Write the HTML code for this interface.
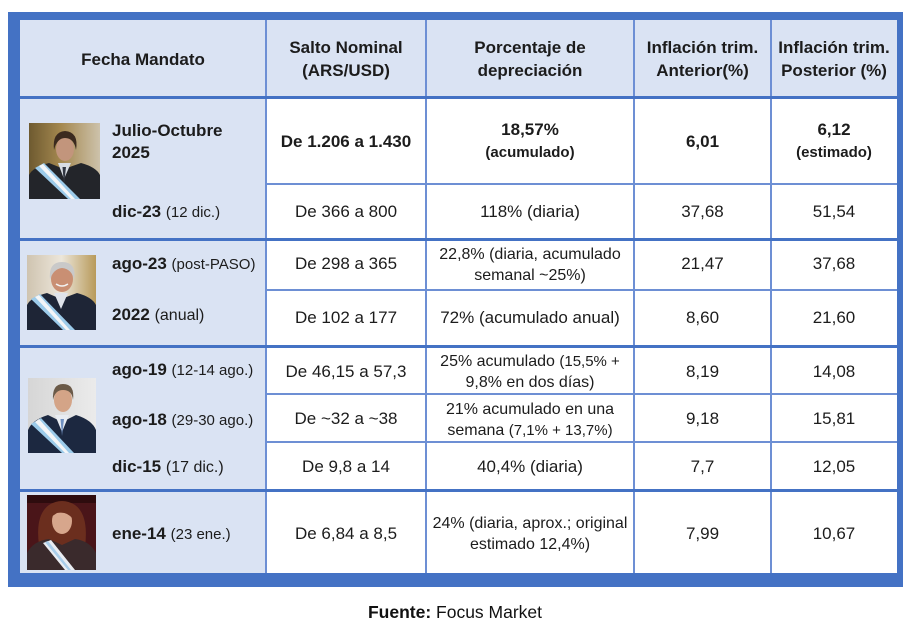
<!DOCTYPE html>
<html>
<head>
<meta charset="utf-8">
<style>
  html,body{margin:0;padding:0;background:#fff;}
  #c{position:relative;width:910px;height:629px;overflow:hidden;background:#fff;font-family:"Liberation Sans",Arial,sans-serif;color:#1c1c1c;}
  .a{position:absolute;}
  .t{position:absolute;text-align:center;white-space:nowrap;line-height:21px;font-size:17px;}
  .l{position:absolute;text-align:left;white-space:nowrap;line-height:21px;font-size:17px;}
  .b{font-weight:bold;}
  .h{font-weight:bold;line-height:23px;}
  .s{font-size:15px;}
  .m{font-size:16px;}
  .hl{position:absolute;background:#6d8fd4;height:2px;}
  .HL{position:absolute;background:#4472c4;height:3px;}
  .vl{position:absolute;background:#6d8fd4;width:2px;}
  .c2{left:266px;width:160px;}
  .c3{left:426px;width:208px;}
  .c4{left:634px;width:137px;}
  .c5{left:771px;width:126px;}
  .c1{left:20px;width:246px;}
</style>
</head>
<body>
<div id="c">
  <div class="a" style="left:8px;top:12px;width:895px;height:575px;background:#4472c4;"></div>
  <div class="a" style="left:20px;top:20px;width:877px;height:553px;background:#fff;"></div>
  <div class="a" style="left:20px;top:20px;width:246px;height:553px;background:#dae3f3;"></div>
  <div class="a" style="left:20px;top:20px;width:877px;height:77px;background:#dae3f3;"></div>

  <div class="vl" style="left:265px;top:20px;height:553px;"></div>
  <div class="vl" style="left:425px;top:20px;height:553px;"></div>
  <div class="vl" style="left:633px;top:20px;height:553px;"></div>
  <div class="vl" style="left:770px;top:20px;height:553px;"></div>

  <div class="hl" style="left:266px;top:183px;width:631px;"></div>
  <div class="hl" style="left:266px;top:289px;width:631px;"></div>
  <div class="hl" style="left:266px;top:393px;width:631px;"></div>
  <div class="hl" style="left:266px;top:441px;width:631px;"></div>

  <div class="HL" style="left:20px;top:96px;width:877px;"></div>
  <div class="HL" style="left:20px;top:238px;width:877px;"></div>
  <div class="HL" style="left:20px;top:345px;width:877px;"></div>
  <div class="HL" style="left:20px;top:489px;width:877px;"></div>

  <div class="t h c1" style="top:48px;">Fecha Mandato</div>
  <div class="t h c2" style="top:36px;">Salto Nominal<br>(ARS/USD)</div>
  <div class="t h c3" style="top:36px;">Porcentaje de<br>depreciación</div>
  <div class="t h c4" style="top:36px;">Inflación trim.<br>Anterior(%)</div>
  <div class="t h c5" style="top:36px;">Inflación trim.<br>Posterior (%)</div>

  <svg class="a" style="left:29px;top:123px;" width="71" height="76" viewBox="0 0 71 76">
    <defs><linearGradient id="g1" x1="0" x2="1"><stop offset="0" stop-color="#6e5a30"/><stop offset=".45" stop-color="#a4884f"/><stop offset="1" stop-color="#cdc2ab"/></linearGradient></defs>
    <rect width="71" height="76" fill="url(#g1)"/>
    <path d="M0 76 V52 Q4 44 20 40 L35 46 L52 40 Q67 44 71 52 V76Z" fill="#23252a"/>
    <path d="M29 40 L35 56 L42 40Z" fill="#d8dde3"/>
    <path d="M33.5 44 L35 62 L37 44Z" fill="#313641"/>
    <ellipse cx="36" cy="26" rx="9" ry="12" fill="#c2957c"/>
    <path d="M25 27 Q23 9 36 8 Q50 9 47 27 Q45 15 36 15 Q28 15 25 27Z" fill="#3b2a1f"/>
    <path d="M6 45 L15 40 L51 76 L39 76Z" fill="#9ccbea"/>
    <path d="M10 43 L14 41 L46 76 L42 76Z" fill="#f3f5f7"/>
  </svg>

  <svg class="a" style="left:27px;top:255px;" width="69" height="75" viewBox="0 0 69 75">
    <defs><linearGradient id="g2" x1="0" x2="1"><stop offset="0" stop-color="#cfc4b0"/><stop offset=".5" stop-color="#ece6da"/><stop offset="1" stop-color="#b89a5a"/></linearGradient></defs>
    <rect width="69" height="75" fill="url(#g2)"/>
    <path d="M0 75 V50 Q4 42 20 38 L34 44 L50 38 Q65 42 69 50 V75Z" fill="#1e2536"/>
    <path d="M27 38 L34 54 L41 38Z" fill="#dfe3ea"/>
    <ellipse cx="35" cy="24" rx="11" ry="13" fill="#c98f73"/>
    <path d="M23 25 Q21 7 35 7 Q50 7 47 25 Q45 14 35 13 Q26 14 23 25Z" fill="#c9c9c9"/>
    <path d="M29 29 Q35 33 41 29" stroke="#f2f2f2" stroke-width="1.5" fill="none"/>
    <path d="M4 44 L13 39 L48 75 L36 75Z" fill="#9ccbea"/>
    <path d="M8 42 L12 40 L43 75 L39 75Z" fill="#f3f5f7"/>
  </svg>

  <svg class="a" style="left:28px;top:378px;" width="68" height="75" viewBox="0 0 68 75">
    <defs><linearGradient id="g3" x1="0" x2="1"><stop offset="0" stop-color="#d6d6d6"/><stop offset="1" stop-color="#ebebeb"/></linearGradient></defs>
    <rect width="68" height="75" fill="url(#g3)"/>
    <path d="M0 75 V52 Q4 42 20 37 L34 44 L48 37 Q64 42 68 52 V75Z" fill="#1c2840"/>
    <path d="M27 37 L34 54 L41 37Z" fill="#e8ecf2"/>
    <path d="M32.5 41 L34 58 L36 41Z" fill="#6f8fc0"/>
    <ellipse cx="35" cy="22" rx="9" ry="12" fill="#d4a487"/>
    <path d="M25 22 Q24 6 35 6 Q47 6 45 22 Q44 12 35 12 Q27 12 25 22Z" fill="#6b5a48"/>
    <path d="M3 46 L13 40 L46 75 L34 75Z" fill="#9ccbea"/>
    <path d="M7 44 L11 41 L41 75 L37 75Z" fill="#f3f5f7"/>
  </svg>

  <svg class="a" style="left:27px;top:495px;" width="69" height="75" viewBox="0 0 69 75">
    <rect width="69" height="75" fill="#4a1519"/>
    <rect x="0" y="0" width="69" height="8" fill="#2e0c0e"/>
    <path d="M12 50 Q8 20 22 10 Q35 2 48 10 Q62 20 58 52 Z" fill="#6b2e1e"/>
    <path d="M0 75 V58 Q6 46 22 44 L35 50 L48 44 Q63 46 69 58 V75Z" fill="#3a2a2c"/>
    <ellipse cx="35" cy="26" rx="10" ry="13" fill="#d7a68c"/>
    <path d="M24 22 Q26 12 36 12 Q46 13 46 24 Q40 16 30 18Z" fill="#6b2e1e"/>
    <path d="M16 48 L24 45 L48 75 L38 75Z" fill="#e9ecf2"/>
    <path d="M18 47 L21 46 L44 75 L41 75Z" fill="#a9cdea"/>
  </svg>

  <div class="l b" style="left:112px;top:120px;line-height:22px;">Julio-Octubre<br>2025</div>
  <div class="t b c2" style="top:131px;">De 1.206 a 1.430</div>
  <div class="t b c3" style="top:119px;line-height:22px;">18,57%<br><span class="s">(acumulado)</span></div>
  <div class="t b c4" style="top:131px;">6,01</div>
  <div class="t b c5" style="top:119px;line-height:22px;">6,12<br><span class="s">(estimado)</span></div>

  <div class="l" style="left:112px;top:201px;"><b>dic-23</b> <span class="s">(12 dic.)</span></div>
  <div class="t c2" style="top:201px;">De 366 a 800</div>
  <div class="t c3" style="top:201px;">118% (diaria)</div>
  <div class="t c4" style="top:201px;">37,68</div>
  <div class="t c5" style="top:201px;">51,54</div>

  <div class="l" style="left:112px;top:253px;"><b>ago-23</b> <span class="s">(post-PASO)</span></div>
  <div class="t c2" style="top:253px;">De 298 a 365</div>
  <div class="t c3 m" style="top:244px;">22,8% (diaria, acumulado<br>semanal ~25%)</div>
  <div class="t c4" style="top:253px;">21,47</div>
  <div class="t c5" style="top:253px;">37,68</div>

  <div class="l" style="left:112px;top:304px;"><b>2022</b> <span class="m">(anual)</span></div>
  <div class="t c2" style="top:307px;">De 102 a 177</div>
  <div class="t c3" style="top:307px;">72% (acumulado anual)</div>
  <div class="t c4" style="top:307px;">8,60</div>
  <div class="t c5" style="top:307px;">21,60</div>

  <div class="l" style="left:112px;top:359px;"><b>ago-19</b> <span class="s">(12-14 ago.)</span></div>
  <div class="t c2" style="top:361px;">De 46,15 a 57,3</div>
  <div class="t c3 m" style="top:351px;">25% acumulado <span class="s">(15,5% +</span><br>9,8% en dos días)</div>
  <div class="t c4" style="top:361px;">8,19</div>
  <div class="t c5" style="top:361px;">14,08</div>

  <div class="l" style="left:112px;top:409px;"><b>ago-18</b> <span class="s">(29-30 ago.)</span></div>
  <div class="t c2" style="top:408px;">De ~32 a ~38</div>
  <div class="t c3 m" style="top:399px;">21% acumulado en una<br>semana <span class="s">(7,1% + 13,7%)</span></div>
  <div class="t c4" style="top:408px;">9,18</div>
  <div class="t c5" style="top:408px;">15,81</div>

  <div class="l" style="left:112px;top:456px;"><b>dic-15</b> <span class="m">(17 dic.)</span></div>
  <div class="t c2" style="top:456px;">De 9,8 a 14</div>
  <div class="t c3" style="top:456px;">40,4% (diaria)</div>
  <div class="t c4" style="top:456px;">7,7</div>
  <div class="t c5" style="top:456px;">12,05</div>

  <div class="l" style="left:112px;top:523px;"><b>ene-14</b> <span class="s">(23 ene.)</span></div>
  <div class="t c2" style="top:523px;">De 6,84 a 8,5</div>
  <div class="t c3 m" style="top:513px;">24% (diaria, aprox.; original<br>estimado 12,4%)</div>
  <div class="t c4" style="top:523px;">7,99</div>
  <div class="t c5" style="top:523px;">10,67</div>

  <div class="a" style="left:0;width:910px;top:601px;text-align:center;font-size:17.5px;line-height:22px;color:#111;font-family:'Liberation Sans',Arial,sans-serif;"><b>Fuente:</b> Focus Market</div>
</div>
</body>
</html>
